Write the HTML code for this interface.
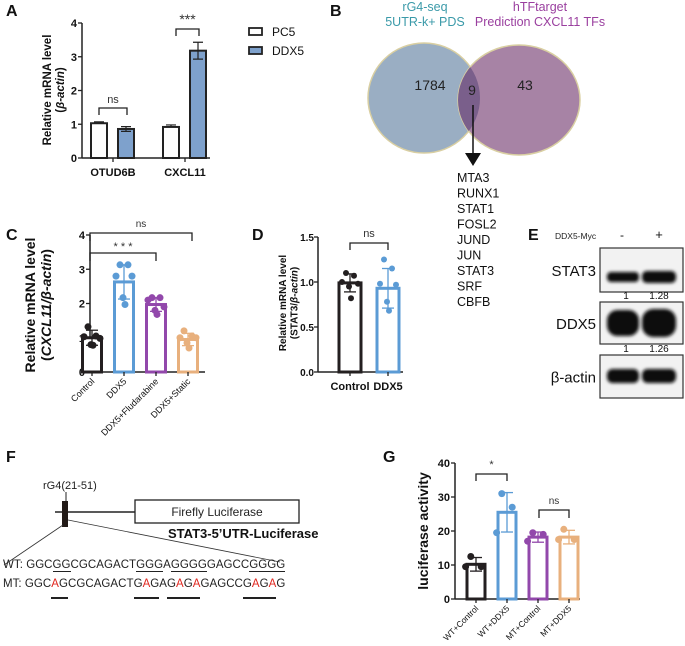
<!DOCTYPE html>
<html><head><meta charset="utf-8"><style>
body{margin:0;background:#fff;}
#root{position:relative;width:685px;height:646px;overflow:hidden;font-family:"Liberation Sans",Arial,sans-serif;}
svg{position:absolute;left:0;top:0;}
.seq{position:absolute;left:3px;font-size:11.5px;white-space:pre;letter-spacing:0.05px;color:#222;}
.u{border-bottom:1.3px solid #222;}
.r{color:#e0261e;}
</style></head><body>
<div id="root">
<svg id="s" width="685" height="646" viewBox="0 0 685 646"></svg>
<div class="seq" style="top:559px">WT: GGC<span class="u">GG</span>CGCAGACT<span class="u">GGG</span>A<span class="u">GGGG</span>GAGCC<span class="u">GGGG</span></div>
<div class="seq" style="top:578px">MT: GGC<span class="r">A</span>GCGCAGACTG<span class="r">A</span>GAG<span class="r">A</span>G<span class="r">A</span>GAGCCG<span class="r">A</span>G<span class="r">A</span>G</div>
<div class="seq" style="top:585px;color:transparent">MT: GGC<span class="u" style="border-bottom-width:2px">AG</span>CGCAGACT<span class="u" style="border-bottom-width:2px">GAG</span>A<span class="u" style="border-bottom-width:2px">GAGA</span>GAGCC<span class="u" style="border-bottom-width:2px">GAGA</span></div>
</div>
<script>
// ---------- data ----------
const aCategories=["OTUD6B","CXCL11"];
const aPC5=[1.03,0.92];
const aPC5Err=[0.04,0.06];
const aDDX5=[0.86,3.18];
const aDDX5Err=[0.07,0.25];
const aTicks=[0,1,2,3,4];

const cCategories=["Control","DDX5","DDX5+Fludarabine","DDX5+Static"];
const cMeans=[1.0,2.63,1.97,0.95];
const cSD=[0.22,0.5,0.2,0.18];
const cPoints=[[1.32,1.05,1.03,0.98,0.8,0.78],[3.13,3.13,2.8,2.8,2.17,1.97],[2.17,2.17,2.1,1.9,1.8,1.68],[1.2,1.05,1.0,1.0,0.85,0.7]];
const cTicks=[0,1,2,3,4];

const dCategories=["Control","DDX5"];
const dMeans=[0.99,0.93];
const dSD=[0.1,0.22];
const dPoints=[[1.1,1.07,1.0,0.98,0.95,0.82],[1.25,1.15,0.98,0.97,0.78,0.68]];
const dTicks=[0,0.5,1.0,1.5];
const dTickLabels=["0.0","0.5","1.0","1.5"];

const gCategories=["WT+Control","WT+DDX5","MT+Control","MT+DDX5"];
const gMeans=[10.2,25.5,18.2,18.2];
const gSD=[2,5.8,1.5,2];
const gPoints=[[12.5,9.5,9.5],[31,27,19.5],[19.5,19,17],[20.5,17.5,17.5]];
const gTicks=[0,10,20,30,40];

const vennCounts=["1784","9","43"];
const tfList=["MTA3","RUNX1","STAT1","FOSL2","JUND","JUN","STAT3","SRF","CBFB"];

const S=document.getElementById('s');
const NS='http://www.w3.org/2000/svg';
function mk(tag,attrs,parent){const e=document.createElementNS(NS,tag);for(const k in attrs)e.setAttribute(k,attrs[k]);(parent||S).appendChild(e);return e;}
function txt(x,y,s,attrs,parent){const e=mk('text',Object.assign({x:x,y:y,'font-family':'Liberation Sans, Arial, sans-serif',fill:'#111'},attrs||{}),parent);e.textContent=s;return e;}
function grp(name){const g=mk('g',{});return g;}

function panelLabel(x,y,s){const t=txt(x,y,s,{'font-size':16,'font-weight':'bold'});}
function bracket(g,x1,x2,y,h,label,ly,fs){mk('path',{d:`M${x1},${y+h}V${y}H${x2}V${y+h}`,stroke:'#222','stroke-width':1.3,fill:'none'},g);const t=txt((x1+x2)/2,ly,label,{'font-size':fs||11,'text-anchor':'middle',fill:'#333'},g);}
function yAxis(g,x,y,ticks,labels,fs,bold,toff){ 
  toff=toff||5;
  mk('line',{x1:x,x2:x,y1:y(ticks[ticks.length-1]),y2:y(ticks[0]),stroke:'#222','stroke-width':1.5},g);
  ticks.forEach((t,i)=>{mk('line',{x1:x-4,x2:x,y1:y(t),y2:y(t),stroke:'#222','stroke-width':1.3},g);
    const l=txt(x-toff,y(t)+4,labels?labels[i]:String(t),{'font-size':fs,'text-anchor':'end','font-weight':bold?'bold':'normal'},g);
    });
}
function yTitle(g,x,cy,lines,fs){lines.forEach((ln,i)=>{const t=mk('text',{x:0,y:0,transform:`translate(${x+i*fs*1.15},${cy}) rotate(-90)`,'text-anchor':'middle','font-size':fs,'font-weight':'bold','font-family':'Liberation Sans, Arial, sans-serif',fill:'#111'},g);t.innerHTML=ln;});}

function dotChart(name,cfg){
  const g=grp(name);
  const y=v=>cfg.y0-(v-cfg.ticks[0])/(cfg.ticks[cfg.ticks.length-1]-cfg.ticks[0])*(cfg.y0-cfg.yTop);
  yAxis(g,cfg.x0,y,cfg.ticks,cfg.tickLabels,cfg.tfs,true,cfg.toff);
  mk('line',{x1:cfg.x0,x2:cfg.xEnd,y1:cfg.y0,y2:cfg.y0,stroke:'#222','stroke-width':1.5},g);
  cfg.cats.forEach((c,i)=>{
    const cx=cfg.x0+cfg.first+i*cfg.step, col=cfg.colors[i], w=cfg.bw;
    const b=mk('rect',{x:cx-w/2,y:y(cfg.means[i]),width:w,height:cfg.y0-y(cfg.means[i]),fill:'#fff',stroke:col,'stroke-width':3},g);
    
    mk('line',{x1:cx,x2:cx,y1:y(cfg.means[i]+cfg.sd[i]),y2:y(cfg.means[i]-cfg.sd[i]),stroke:col,'stroke-width':1.3},g);
    [cfg.means[i]+cfg.sd[i],cfg.means[i]-cfg.sd[i]].forEach(v=>mk('line',{x1:cx-6,x2:cx+6,y1:y(v),y2:y(v),stroke:col,'stroke-width':1.3},g));
    cfg.points[i].forEach((v,j)=>{const off=(j%2===0?-1:1)*(j<2?4:(j<4?8:1))*cfg.jit;
      const p=mk('circle',{cx:cx+off,cy:y(v),r:cfg.pr,fill:col},g);});
    mk('line',{x1:cx,x2:cx,y1:cfg.y0,y2:cfg.y0+4,stroke:'#222','stroke-width':1.3},g);
    if(cfg.rotate){const t=mk('text',{x:0,y:0,transform:`translate(${cx+3},${cfg.y0+10}) rotate(-45)`,'text-anchor':'end','font-size':cfg.xfs,'font-family':'Liberation Sans, Arial, sans-serif',fill:'#111'},g);t.textContent=c;}
    else{const t=txt(cx,cfg.y0+18,c,{'font-size':cfg.xfs,'text-anchor':'middle','font-weight':'bold'},g);}
  });
  return {g,y};
}

// ---------- Panel A ----------
panelLabel(6,16,"A");
(function(){
  const g=grp('panel-a-chart');
  const y0=158,yT=23,x0=82;
  const y=v=>y0-v/4*(y0-yT);
  yAxis(g,x0,y,aTicks,null,11,true);
  mk('line',{x1:x0,x2:210,y1:y0,y2:y0,stroke:'#222','stroke-width':1.5},g);
  const groupX=[113,185];
  aCategories.forEach((c,i)=>{
    [[aPC5,aPC5Err,'#fff',-14,'pc5'],[aDDX5,aDDX5Err,'#7ea1cc',13,'ddx5']].forEach(([v,e,f,off,n])=>{
      const cx=groupX[i]+off;
      const b=mk('rect',{x:cx-8,y:y(v[i]),width:16,height:y0-y(v[i]),fill:f,stroke:'#222','stroke-width':2},g);
      
      mk('path',{d:`M${cx},${y(v[i])}V${y(v[i]+e[i])}M${cx-5},${y(v[i]+e[i])}H${cx+5}`,stroke:'#222','stroke-width':1.2,fill:'none'},g);
      if(n==='ddx5')mk('path',{d:`M${cx},${y(v[i])}V${y(v[i]-e[i])}M${cx-5},${y(v[i]-e[i])}H${cx+5}`,stroke:'#222','stroke-width':1.2,fill:'none'},g);
    });
    mk('line',{x1:groupX[i],x2:groupX[i],y1:y0,y2:y0+4,stroke:'#222','stroke-width':1.3},g);
    const t=txt(groupX[i],y0+18,c,{'font-size':11,'font-weight':'bold','text-anchor':'middle'},g);
  });
  bracket(g,99,127,108,7,'ns',103,11);
  bracket(g,176,199,29,7,'***',24,14);
  yTitle(g,51,90,['Relative mRNA level','(<tspan font-style="italic">β-actin</tspan>)'],11.5);
  const lg=grp('legend');
  [['PC5','#fff',28],['DDX5','#7ea1cc',47]].forEach(([l,f,yy])=>{
    const r=mk('rect',{x:249,y:yy,width:13,height:7,fill:f,stroke:'#222','stroke-width':1.8},lg);
    const t=txt(272,yy+8,l,{'font-size':12},lg);});
})();

// ---------- Panel B Venn ----------
panelLabel(330,16,"B");
(function(){
  const g=grp('venn-diagram');
  const defs=mk('defs',{},g);
  const cp=mk('clipPath',{id:'cl'},defs);mk('ellipse',{cx:424,cy:98,rx:56,ry:55},cp);
  const l=mk('ellipse',{cx:424,cy:98,rx:56,ry:55,fill:'#9aaec3',stroke:'#d9cfa2','stroke-width':1.5},g);
  const r=mk('ellipse',{cx:519,cy:100,rx:61,ry:55,fill:'#a783a5',stroke:'#d9cfa2','stroke-width':1.5},g);
  const o=mk('ellipse',{cx:519,cy:100,rx:61,ry:55,fill:'#7a5f8b','clip-path':'url(#cl)'},g);
  txt(425,11,'rG4-seq',{'font-size':12.5,'text-anchor':'middle',fill:'#3b9aa9'},g);
  txt(425,26,'5UTR-k+ PDS',{'font-size':12.5,'text-anchor':'middle',fill:'#3b9aa9'},g);
  txt(540,11,'hTFtarget',{'font-size':12.5,'text-anchor':'middle',fill:'#9a3f9f'},g);
  txt(540,26,'Prediction CXCL11 TFs',{'font-size':12.5,'text-anchor':'middle',fill:'#9a3f9f'},g);
  [[430,90],[472,95],[525,90]].forEach((p,i)=>{const t=txt(p[0],p[1],vennCounts[i],{'font-size':14,'text-anchor':'middle',fill:'#222'},g);});
  mk('line',{x1:473,x2:473,y1:105,y2:155,stroke:'#111','stroke-width':1.5},g);
  mk('polygon',{points:'465,153 481,153 473,166',fill:'#111'},g);
  tfList.forEach((s,i)=>{const t=txt(457,182+i*15.5,s,{'font-size':12.5,fill:'#111'},g);});
})();

// ---------- Panel C ----------
panelLabel(6,240,"C");
(function(){
  const c=dotChart('panel-c-chart',{x0:90,xEnd:205,y0:372,yTop:235,ticks:cTicks,tfs:11,cats:cCategories,means:cMeans,sd:cSD,points:cPoints,
    colors:['#231f20','#5b9bd5','#9248ab','#e8b07d'],first:2,step:32,bw:19,pr:3.5,jit:1,rotate:true,xfs:9});
  bracket(c.g,90,192,233,8,'ns',227,10);
  bracket(c.g,90,156,253,8,'* * *',250,11);
  yTitle(c.g,35,305,['Relative mRNA level','(<tspan font-style="italic">CXCL11/β-actin</tspan>)'],14);
})();

// ---------- Panel D ----------
panelLabel(252,240,"D");
(function(){
  const c=dotChart('panel-d-chart',{x0:318,xEnd:403,y0:372,yTop:237,ticks:dTicks,tickLabels:dTickLabels,tfs:10,toff:4,cats:dCategories,means:dMeans,sd:dSD,points:dPoints,
    colors:['#231f20','#5b9bd5'],first:32,step:38,bw:22,pr:3,jit:1,rotate:false,xfs:11});
  bracket(c.g,350,388,243,7,'ns',237,11);
  yTitle(c.g,286,303,['Relative mRNA level','(STAT3/<tspan font-style="italic">β-actin</tspan>)'],10);
})();

// ---------- Panel E (western blot) ----------
panelLabel(528,240,"E");
(function(){
  const g=grp('western-blot');
  const f=mk('defs',{},g);
  const fl=mk('filter',{id:'bl',x:'-20%',y:'-50%',width:'140%',height:'200%'},f);mk('feGaussianBlur',{stdDeviation:1.6},fl);
  txt(555,239,'DDX5-Myc',{'font-size':8.5,fill:'#222'},g);
  txt(622,239,'-',{'font-size':12,'text-anchor':'middle'},g);
  txt(659,239,'+',{'font-size':13,'text-anchor':'middle'},g);
  const blots=[['STAT3',248,292,277,10,12],['DDX5',302,344,323,26,28],['β-actin',355,398,376,14,14]];
  blots.forEach(([n,y1,y2,cy,h1,h2])=>{
    const b=mk('rect',{x:600,y:y1,width:83,height:y2-y1,fill:'#f2f2f2',stroke:'#333','stroke-width':1.2},g);
    mk('rect',{x:607,y:cy-h1/2,width:32,height:h1,rx:h1/2.5,fill:'#111',filter:'url(#bl)'},g);
    mk('rect',{x:642,y:cy-h2/2,width:34,height:h2,rx:h2/2.5,fill:'#111',filter:'url(#bl)'},g);
    txt(596,(y1+y2)/2+6,n,{'font-size':15,'text-anchor':'end',fill:'#111'},g);
  });
  [['1','1.28',299],['1','1.26',352]].forEach(([a,b,yy])=>{txt(626,yy,a,{'font-size':10,'text-anchor':'middle'},g);txt(659,yy,b,{'font-size':10,'text-anchor':'middle'},g);});
})();

// ---------- Panel F ----------
panelLabel(6,462,"F");
(function(){
  const g=grp('construct-diagram');
  txt(43,489,'rG4(21-51)',{'font-size':11,fill:'#222'},g);
  mk('line',{x1:66,x2:66,y1:492,y2:502,stroke:'#222','stroke-width':1},g);
  mk('line',{x1:55,x2:135,y1:512,y2:512,stroke:'#222','stroke-width':1.5},g);
  const r=mk('rect',{x:62,y:501,width:6,height:26,fill:'#221a17'},g);
  const b=mk('rect',{x:135,y:500,width:164,height:23,fill:'#fff',stroke:'#222','stroke-width':1.3},g);
  txt(217,516,'Firefly Luciferase',{'font-size':12,'text-anchor':'middle',fill:'#222'},g);
  txt(168,538,'STAT3-5’UTR-Luciferase',{'font-size':13,'font-weight':'bold',fill:'#111'},g);
  mk('line',{x1:63,x2:4,y1:525,y2:565,stroke:'#333','stroke-width':0.8},g);
  mk('line',{x1:68,x2:280,y1:520,y2:562,stroke:'#333','stroke-width':0.8},g);
})();

// ---------- Panel G ----------
panelLabel(383,462,"G");
(function(){
  const c=dotChart('panel-g-chart',{x0:455,xEnd:580,y0:599,yTop:463,ticks:gTicks,tfs:11,cats:gCategories,means:gMeans,sd:gSD,points:gPoints,
    colors:['#231f20','#5b9bd5','#9248ab','#e8b07d'],first:21,step:31,bw:18,pr:3.5,jit:1.3,rotate:true,xfs:8.5});
  bracket(c.g,476,507,474,7,'*',468,11);
  bracket(c.g,539,569,510,8,'ns',504,10);
  yTitle(c.g,428,531,['luciferase activity'],14);
})();
</script>
</body></html>
